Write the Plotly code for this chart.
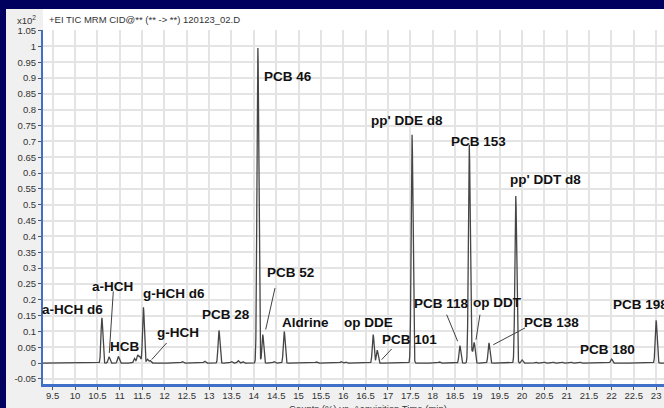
import numpy as np
import plotly.graph_objects as go

# ---- data ----
peak_times = [10.60, 10.76, 10.97, 11.33, 11.40, 11.45, 11.53, 11.62, 11.68,
              12.40, 12.90, 13.22, 13.50, 13.65, 13.75, 14.09, 14.20, 14.45,
              14.68, 15.40, 15.95, 16.05, 16.67, 16.76, 17.54, 18.15, 18.61,
              18.82, 18.88, 18.93, 19.26, 19.86, 20.00, 20.30, 20.50, 20.70,
              20.90, 21.10, 21.30, 22.00, 23.00]
peak_heights = [0.143, 0.020, 0.021, 0.015, 0.025, 0.020, 0.176, 0.012, 0.008,
                0.005, 0.006, 0.103, 0.005, 0.008, 0.005, 0.995, 0.090, 0.005,
                0.100, 0.004, 0.005, 0.004, 0.090, 0.041, 0.721, 0.004, 0.055,
                0.689, 0.030, 0.064, 0.064, 0.528, 0.010, 0.003, 0.003, 0.003,
                0.003, 0.003, 0.003, 0.013, 0.135]

labels = ["a-HCH d6", "a-HCH", "HCB", "g-HCH d6", "g-HCH", "PCB 28", "PCB 52",
          "Aldrine", "PCB 46", "pp' DDE d8", "PCB 153", "pp' DDT d8", "op DDE",
          "PCB 101", "PCB 118", "op DDT", "PCB 138", "PCB 180", "PCB 198"]
label_t = [9.954, 10.827, 11.115, 12.203, 12.314, 13.366, 14.831, 15.156, 14.764,
           17.437, 19.037, 20.535, 16.554, 17.493, 18.209, 19.451, 20.669, 21.912, 22.64]
label_v = [0.169, 0.242, 0.053, 0.221, 0.097, 0.153, 0.285, 0.127, 0.905,
           0.765, 0.700, 0.579, 0.127, 0.074, 0.187, 0.190, 0.129, 0.042, 0.184]

# leader lines: (t0, v0, t1, v1)
leader_t0 = [10.856, 12.050, 14.473, 17.084, 18.314, 19.059, 20.066]
leader_v0 = [0.2265, 0.0637, 0.237, 0.0448, 0.153, 0.153, 0.111]
leader_t1 = [10.766, 11.715, 14.265, 16.860, 18.560, 18.970, 19.357]
leader_v1 = [0.032, 0.011, 0.106, 0.011, 0.069, 0.074, 0.058]

x_ticks = [9.5, 10, 10.5, 11, 11.5, 12, 12.5, 13, 13.5, 14, 14.5, 15, 15.5, 16,
           16.5, 17, 17.5, 18, 18.5, 19, 19.5, 20, 20.5, 21, 21.5, 22, 22.5, 23]
x_tick_text = ["9.5", "10", "10.5", "11", "11.5", "12", "12.5", "13", "13.5", "14",
               "14.5", "15", "15.5", "16", "16.5", "17", "17.5", "18", "18.5", "19",
               "19.5", "20", "20.5", "21", "21.5", "22", "22.5", "23"]
y_ticks = [-0.05, 0, 0.05, 0.1, 0.15, 0.2, 0.25, 0.3, 0.35, 0.4, 0.45, 0.5, 0.55,
           0.6, 0.65, 0.7, 0.75, 0.8, 0.85, 0.9, 0.95, 1, 1.05]
y_tick_text = ["-0.05", "0", "0.05", "0.1", "0.15", "0.2", "0.25", "0.3", "0.35",
               "0.4", "0.45", "0.5", "0.55", "0.6", "0.65", "0.7", "0.75", "0.8",
               "0.85", "0.9", "0.95", "1", "1.05"]

# ---- build the chromatogram trace from the peak table ----
SIGMA = 0.02
t = np.arange(9.28, 23.25, 0.002)
signal = np.zeros_like(t)
for pt, ph in zip(peak_times, peak_heights):
    signal += ph * np.exp(-0.5 * ((t - pt) / SIGMA) ** 2)

W, H = 664, 408
L, R, T, B = 43, 0, 30, 24
PW, PH = W - L - R, H - T - B


def px(xp):
    return (xp - L) / PW


def py(yp):
    return (H - B - yp) / PH


fig = go.Figure()
fig.add_trace(go.Scatter(x=t, y=signal, mode="lines",
                         line=dict(color="#454545", width=1.3),
                         hoverinfo="skip", showlegend=False))

shapes = [
    dict(type="rect", xref="paper", yref="paper", x0=px(6), x1=px(672), y0=py(412), y1=py(9),
         fillcolor="#f0f0f0", line=dict(width=0), layer="below"),
    dict(type="rect", xref="paper", yref="paper", x0=0, x1=px(672), y0=0, y1=py(9),
         fillcolor="#ffffff", line=dict(width=0), layer="below"),
]
for a, b, c, d in zip(leader_t0, leader_v0, leader_t1, leader_v1):
    shapes.append(dict(type="line", xref="x", yref="y", x0=a, y0=b, x1=c, y1=d,
                       line=dict(color="#404040", width=1)))

annotations = []
for txt, lt, lv in zip(labels, label_t, label_v):
    annotations.append(dict(x=lt, y=lv, xref="x", yref="y", text=txt, showarrow=False,
                            xanchor="center", yanchor="middle",
                            font=dict(family="Liberation Sans, Arial", size=13.5,
                                      color="#111111", weight="bold")))

small_font = dict(family="Liberation Sans Narrow, Arial Narrow, Liberation Sans, Arial",
                  size=9.5, color="#333333")
annotations.append(dict(x=px(47), y=py(20), xref="paper", yref="paper",
                        text="+EI TIC MRM CID@** (** -> **) 120123_02.D",
                        showarrow=False, xanchor="left", yanchor="middle", font=small_font))
annotations.append(dict(x=px(38), y=py(20), xref="paper", yref="paper",
                        text="x10<sup>2</sup>", showarrow=False, xanchor="right",
                        yanchor="middle", font=small_font))
annotations.append(dict(x=px(368), y=py(401), xref="paper", yref="paper",
                        text="Counts (%) vs. Acquisition Time (min)",
                        showarrow=False, xanchor="center", yanchor="top", font=small_font))

fig.update_layout(
    width=W, height=H,
    margin=dict(l=L, r=R, t=T, b=B, autoexpand=False),
    paper_bgcolor="#00005f",
    plot_bgcolor="#ffffff",
    shapes=shapes,
    annotations=annotations,
    showlegend=False,
    xaxis=dict(range=[9.283, 23.176], tickvals=x_ticks, ticktext=x_tick_text,
               showgrid=True, gridcolor="#e4e4e4", gridwidth=1.5,
               showline=True, linecolor="#3f6fc6", linewidth=2.5,
               ticks="outside", ticklen=3, tickcolor="#555555", tickwidth=1,
               ticklabelstandoff=-2,
               tickfont=small_font, zeroline=False, automargin=False),
    yaxis=dict(range=[-0.066, 1.052], tickvals=y_ticks, ticktext=y_tick_text,
               showgrid=True, gridcolor="#e4e4e4", gridwidth=1.5,
               showline=True, linecolor="#3f6fc6", linewidth=2,
               ticks="outside", ticklen=3, tickcolor="#555555", tickwidth=1,
               tickfont=small_font, zeroline=False, automargin=False),
)

fig.write_html("out.html")
